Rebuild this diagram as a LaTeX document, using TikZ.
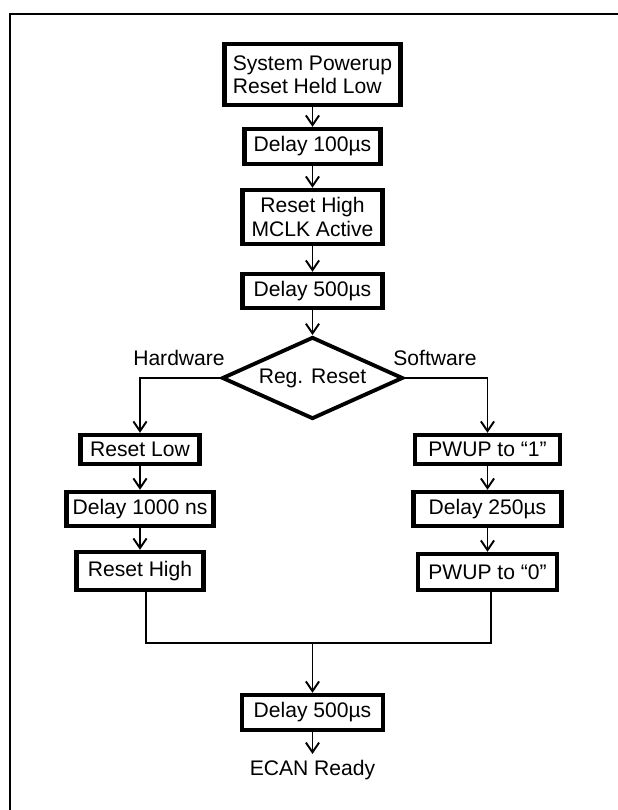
\documentclass[tikz,border=0pt]{standalone}
\usepackage{fontspec}
\setmainfont{Liberation Sans}
\usepackage{tikz}
\usetikzlibrary{shapes.geometric, arrows.meta}

\tikzset{
  procbox/.style={draw, line width=2.5pt, inner sep=0pt, align=center},
  decision/.style={draw, diamond, line width=2.2pt, aspect=2.15, inner sep=0pt, minimum width=3.62cm, minimum height=1.64cm},
  flowline/.style={line width=1.1pt},
  flowarrow/.style={line width=1.1pt, -{Straight Barb[length=5.5pt,width=7.5pt]}},
}

\begin{document}
\begin{tikzpicture}[font=\fontsize{12}{13}\selectfont]
\useasboundingbox (0,0) rectangle (12.36,-16.2);
% Frame
\draw[line width=1.3pt] (0.2,-16.2) -- (0.2,-0.28) -- (12.36,-0.28);

% Power-up sequence
\node[procbox, align=left, minimum width=3.52cm, minimum height=1.22cm] (powerup) at (6.25,-1.49) {System Powerup\\Reset Held Low};
\node[procbox, minimum width=2.72cm, minimum height=0.7cm] (delayA) at (6.25,-2.93) {Delay 100µs};
\node[procbox, minimum width=2.8cm, minimum height=1.08cm, font=\fontsize{12}{13.5}\selectfont] (mclk) at (6.25,-4.34) {Reset High\\MCLK Active};
\node[procbox, minimum width=2.8cm, minimum height=0.68cm] (delayB) at (6.25,-5.82) {Delay 500µs};

% Decision
\node[decision] (regreset) at (6.25,-7.56) {Reg. Reset};
\node (hw) at (3.58,-7.16) {Hardware};
\node (sw) at (8.7,-7.16) {Software};

% Hardware branch
\node[procbox, minimum width=2.38cm, minimum height=0.58cm] (rlow) at (2.8,-8.99) {Reset Low};
\node[procbox, minimum width=2.94cm, minimum height=0.68cm] (delayHW) at (2.8,-10.18) {Delay 1000 ns};
\node[procbox, minimum width=2.54cm, minimum height=0.76cm] (rhigh) at (2.8,-11.42) {Reset High};

% Software branch
\node[procbox, minimum width=2.9cm, minimum height=0.58cm] (pwupone) at (9.75,-8.99) {PWUP to “1”};
\node[procbox, minimum width=2.96cm, minimum height=0.68cm] (delaySW) at (9.75,-10.18) {Delay 250µs};
\node[procbox, minimum width=2.78cm, minimum height=0.72cm] (pwupzero) at (9.75,-11.44) {PWUP to “0”};

% End
\node[procbox, minimum width=2.82cm, minimum height=0.7cm] (delayC) at (6.25,-14.25) {Delay 500µs};
\node (ready) at (6.25,-15.4) {ECAN Ready};

\coordinate (joinL) at (2.92,-12.86);
\coordinate (joinR) at (9.82,-12.86);
\coordinate (joinM) at (6.25,-12.86);

% Connections
\draw[flowarrow] (powerup) -- (delayA);
\draw[flowarrow] (delayA) -- (mclk);
\draw[flowarrow] (mclk) -- (delayB);
\draw[flowarrow] (delayB) -- (regreset);
\draw[flowarrow] (regreset.west) -| (rlow.north);
\draw[flowarrow] (regreset.east) -| (pwupone.north);
\draw[flowarrow] (rlow) -- (delayHW);
\draw[flowarrow] (delayHW) -- (rhigh);
\draw[flowarrow] (pwupone) -- (delaySW);
\draw[flowarrow] (delaySW) -- (pwupzero);
\draw[flowline] (rhigh.south -| joinL) -- (joinL) -- (joinR) -- (pwupzero.south -| joinR);
\draw[flowarrow] (joinM) -- (delayC.north);
\draw[flowarrow] (delayC) -- (ready);
\end{tikzpicture}
\end{document}
